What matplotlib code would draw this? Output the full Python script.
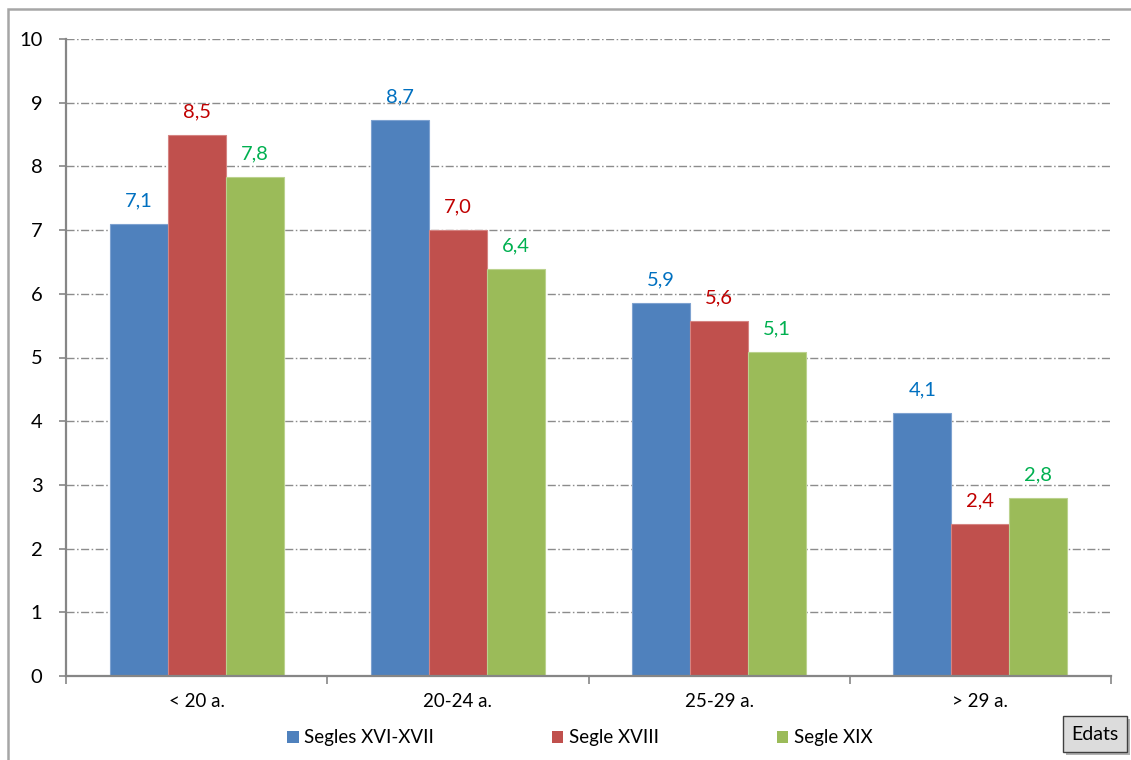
import matplotlib
matplotlib.use("Agg")
import matplotlib.pyplot as plt
from matplotlib.patches import Rectangle, FancyBboxPatch
import numpy as np

categories = ["< 20 a.", "20-24 a.", "25-29 a.", "> 29 a."]
series_names = ["Segles XVI-XVII", "Segle XVIII", "Segle XIX"]
s1 = [7.10, 8.73, 5.86, 4.13]
s2 = [8.49, 7.00, 5.57, 2.39]
s3 = [7.83, 6.39, 5.09, 2.79]
yticks = list(range(0, 11))

bar_colors = ["#4F81BD", "#C0504D", "#9BBB59"]
edge_colors = ["#7EA2D0", "#D58482", "#BBD28E"]
label_colors = ["#0070C0", "#C00000", "#00B050"]

plt.rcParams['font.family'] = ['Lato', 'DejaVu Sans']
W, H = 1131, 760
fig = plt.figure(figsize=(W / 100, H / 100), dpi=100)

def fx(px):
    return px / W

def fy(py):
    return 1 - py / H

ax = fig.add_axes([fx(66), fy(676), fx(1111) - fx(66), fy(39) - fy(676)])

x = np.arange(len(categories))
bw = 1 / 4.5
for i, (vals, c, ec, lc) in enumerate(zip([s1, s2, s3], bar_colors, edge_colors, label_colors)):
    xs = x + (i - 1) * bw
    ax.bar(xs, vals, width=bw, color=c, edgecolor=ec, linewidth=0.8, zorder=3,
           label=series_names[i])
    for xi, v in zip(xs, vals):
        ax.annotate(f"{v:.1f}".replace('.', ','), (xi, v), xytext=(0, 10.5),
                    textcoords='offset points', ha='center', va='bottom',
                    color=lc, fontsize=14.5)

ax.set_xlim(-0.5, len(categories) - 0.5)
ax.set_ylim(0, 10)
ax.set_yticks(yticks)
ax.set_yticklabels([str(t) for t in yticks], fontsize=14.5)
ax.set_xticks(x)
ax.set_xticklabels(categories, fontsize=13.5)
ax.set_xticks(np.arange(-0.5, len(categories), 1), minor=True)
ax.tick_params(axis='x', which='major', length=0, pad=12)
ax.tick_params(axis='x', which='minor', length=6, width=1.2, color='#868686', direction='out')
ax.tick_params(axis='y', length=5, width=1.2, color='#868686', pad=12)

for yv in yticks[1:]:
    ax.axhline(yv, color='#8C8C8C', linewidth=1.0, dashes=(5.8, 1.8, 1.1, 1.8), zorder=1)

for side in ['top', 'right']:
    ax.spines[side].set_visible(False)
for side in ['left', 'bottom']:
    ax.spines[side].set_color('#868686')
    ax.spines[side].set_linewidth(1.6)
    ax.spines[side].set_zorder(4)

leg = fig.legend(loc='center', bbox_to_anchor=(fx(580), fy(738)), ncol=3, frameon=False,
                 fontsize=13.5, handlelength=0.6, handleheight=0.6, handletextpad=0.3,
                 columnspacing=6.3)
for h in leg.legend_handles:
    h.set_edgecolor('none')

# outer chart border
fig.patches.append(Rectangle((fx(8), fy(1200)), fx(1500), fy(9) - fy(1200),
                             transform=fig.transFigure, fill=False,
                             edgecolor='#A6A6A6', linewidth=1.8))

# "Edats" button with shadow
fig.patches.append(FancyBboxPatch((fx(1066), fy(755)), fx(64), fy(719) - fy(755),
                                  boxstyle='square,pad=0', transform=fig.transFigure,
                                  facecolor='#7F7F7F', edgecolor='none', alpha=0.6))
fig.patches.append(FancyBboxPatch((fx(1063), fy(752)), fx(64), fy(716) - fy(752),
                                  boxstyle='square,pad=0', transform=fig.transFigure,
                                  facecolor='#DCDCDC', edgecolor='#404040', linewidth=1.0))
fig.text(fx(1095), fy(734), "Edats", ha='center', va='center', fontsize=14, color='black')

fig.savefig("out.png", dpi=100)
